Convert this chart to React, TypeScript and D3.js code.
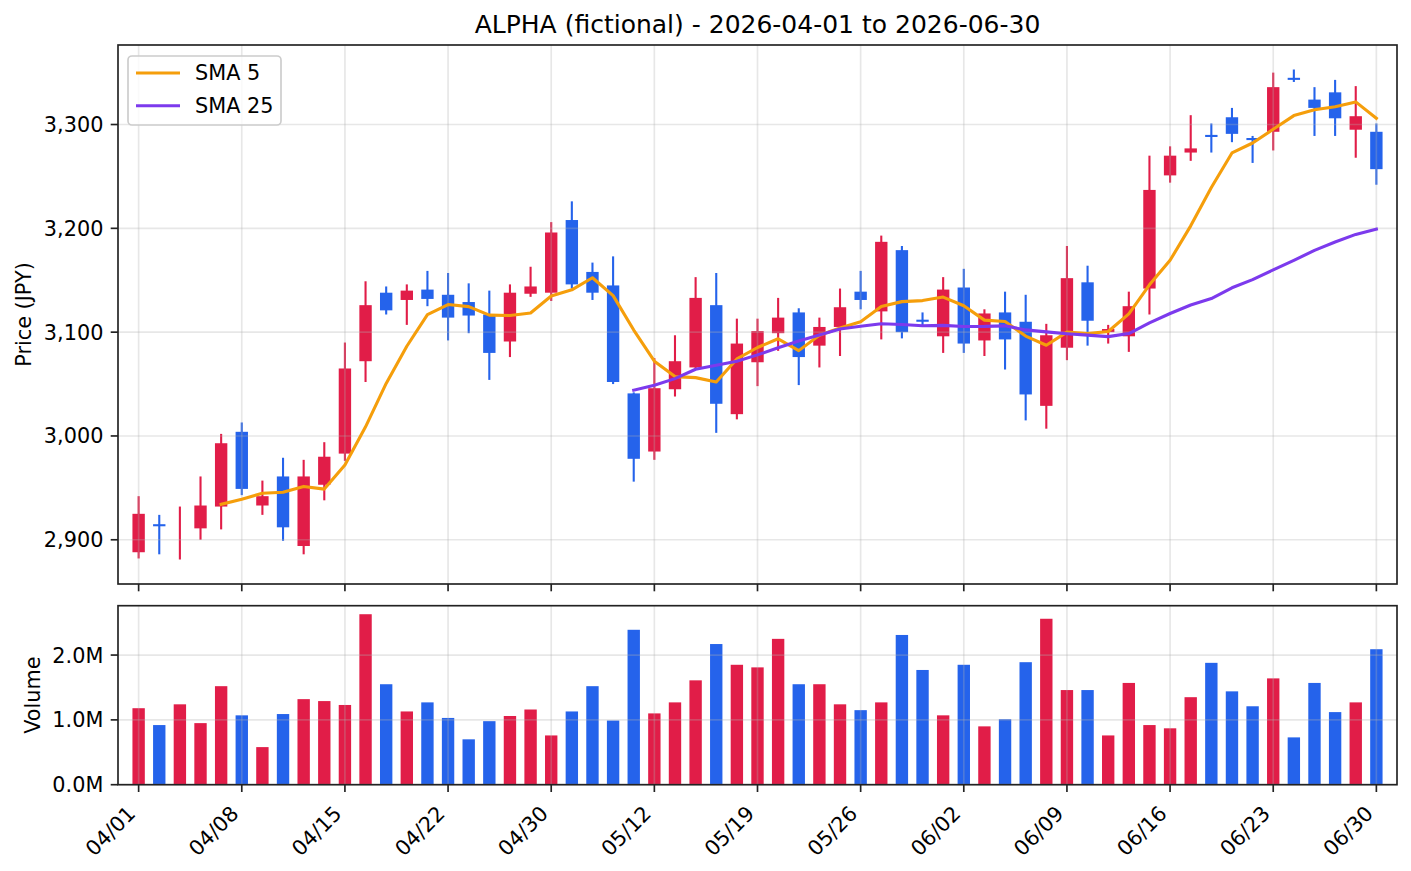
import React from "react";
import * as d3 from "d3";

const dates = [
  "04/01","04/02","04/03","04/06","04/07","04/08","04/09","04/10","04/13","04/14",
  "04/15","04/16","04/17","04/20","04/21","04/22","04/23","04/24","04/27","04/28",
  "04/30","05/01","05/07","05/08","05/11","05/12","05/13","05/14","05/15","05/18",
  "05/19","05/20","05/21","05/22","05/25","05/26","05/27","05/28","05/29","06/01",
  "06/02","06/03","06/04","06/05","06/08","06/09","06/10","06/11","06/12","06/15",
  "06/16","06/17","06/18","06/19","06/22","06/23","06/24","06/25","06/26","06/29",
  "06/30",
];

const opens = [
  2888, 2915, 2907, 2911, 2932, 3004, 2933, 2961, 2894, 2953,
  2983, 3072, 3138, 3131, 3141, 3136, 3129, 3117, 3091, 3137,
  3138, 3208, 3158, 3145, 3041, 2985, 3045, 3066, 3126, 3021,
  3071, 3099, 3119, 3087, 3105, 3139, 3120, 3179, 3112, 3096,
  3143, 3092, 3119, 3110, 3029, 3085, 3148, 3100, 3096, 3142,
  3251, 3273, 3290, 3307, 3287, 3293, 3345, 3324, 3331, 3295,
  3293,
];
const highs = [
  2942, 2924, 2932, 2961, 3002, 3013, 2957, 2979, 2977, 2994,
  3090, 3149, 3144, 3146, 3159, 3157, 3147, 3140, 3146, 3163,
  3206, 3226, 3167, 3173, 3042, 3075, 3097, 3153, 3157, 3113,
  3113, 3133, 3123, 3114, 3142, 3159, 3193, 3183, 3119, 3153,
  3161, 3122, 3139, 3136, 3108, 3183, 3164, 3107, 3139, 3270,
  3279, 3309, 3301, 3316, 3289, 3350, 3353, 3336, 3343, 3337,
  3301,
];
const lows = [
  2882, 2886, 2881, 2900, 2910, 2943, 2924, 2899, 2886, 2938,
  2976, 3052, 3117, 3107, 3125, 3092, 3099, 3054, 3076, 3134,
  3130, 3142, 3131, 3050, 2956, 2977, 3038, 3064, 3003, 3016,
  3048, 3082, 3049, 3066, 3077, 3122, 3093, 3094, 3106, 3080,
  3080, 3077, 3064, 3015, 3007, 3073, 3087, 3089, 3081, 3117,
  3244, 3265, 3273, 3283, 3263, 3275, 3341, 3289, 3289, 3268,
  3242,
];
const closes = [
  2925, 2913, 2907, 2933, 2993, 2949, 2942, 2912, 2961, 2980,
  3065, 3126, 3121, 3140, 3132, 3114, 3116, 3080, 3138, 3144,
  3196, 3146, 3138, 3052, 2978, 3046, 3072, 3133, 3031, 3089,
  3101, 3114, 3076, 3105, 3124, 3131, 3187, 3100, 3110, 3141,
  3089, 3118, 3093, 3040, 3097, 3152, 3111, 3103, 3125, 3237,
  3270, 3277, 3288, 3291, 3285, 3336, 3343, 3316, 3306, 3308,
  3257,
];
const volumesM = [
  1.18, 0.92, 1.24, 0.95, 1.52, 1.07, 0.58, 1.09, 1.32, 1.29,
  1.23, 2.63, 1.55, 1.13, 1.27, 1.03, 0.70, 0.98, 1.06, 1.16,
  0.76, 1.13, 1.52, 0.99, 2.39, 1.10, 1.27, 1.61, 2.17, 1.85,
  1.81, 2.25, 1.55, 1.55, 1.24, 1.15, 1.27, 2.31, 1.77, 1.07,
  1.85, 0.90, 1.01, 1.89, 2.56, 1.46, 1.46, 0.76, 1.57, 0.92,
  0.87, 1.35, 1.88, 1.44, 1.21, 1.64, 0.73, 1.57, 1.12, 1.27,
  2.09,
];
const volumes = volumesM.map((v) => v * 1e6);

const priceTicks = [2900, 3000, 3100, 3200, 3300];
const volumeTicks = [0, 1e6, 2e6];
const smaPeriods = [5, 25];
const smaLabels = ["SMA 5", "SMA 25"];
const smaColors = ["#F59E0B", "#7C3AED"];
const titleText = "ALPHA (fictional) - 2026-04-01 to 2026-06-30";

const UP = "#E11D48";
const DOWN = "#2563EB";
const FONT = "DejaVu Sans, Verdana, sans-serif";

function sma(values: number[], n: number): (number | null)[] {
  return values.map((_, i) => {
    if (i < n - 1) return null;
    let s = 0;
    for (let k = i - n + 1; k <= i; k++) s += values[k];
    return s / n;
  });
}

export default function App() {
  const W = 1411, H = 871;
  const left = 118, right = 1397;
  const pTop = 45, pBot = 584;
  const vTop = 605.7, vBot = 784.7;
  const n = dates.length;
  const tickLen = 7.3, pad = 7.3, fs = 20.8;
  const axisColor = "#222";
  const gridColor = "#b0b0b0";

  const x = d3.scaleLinear().domain([-1, n]).range([left, right]);
  const lo = d3.min(lows)!, hi = d3.max(highs)!;
  const pr = hi - lo;
  const y = d3.scaleLinear().domain([lo - 0.05 * pr, hi + 0.05 * pr]).range([pBot, pTop]);
  const vy = d3.scaleLinear().domain([0, d3.max(volumes)! * 1.05]).range([vBot, vTop]);

  const bw = x(0.3) - x(0);
  const xTickIdx = d3.range(0, n, 5);
  const smas = smaPeriods.map((p) => sma(closes, p));
  const line = d3
    .line<number | null>()
    .defined((d) => d !== null)
    .x((_, i) => x(i))
    .y((d) => y(d as number));

  const fmtPrice = d3.format(",");
  const fmtVol = (v: number) => (v / 1e6).toFixed(1) + "M";

  const a = 0.928 * fs, dsc = 0.236 * fs;

  return (
    <div style={{ position: "absolute", left: 0, top: 0 }}>
      <svg width={W} height={H} style={{ display: "block", background: "#fff" }} fontFamily={FONT}>
        <rect x={0} y={0} width={W} height={H} fill="#fff" />
        <text x={(left + right) / 2} y={32.5} textAnchor="middle" fontSize={25} fill="#000">
          {titleText}
        </text>

        {/* ---------- Price panel ---------- */}
        <g>
          {dates.map((_, i) => {
            const up = closes[i] >= opens[i];
            const c = up ? UP : DOWN;
            const top = y(Math.max(opens[i], closes[i]));
            const bot = y(Math.min(opens[i], closes[i]));
            return (
              <g key={"c" + i}>
                <line x1={x(i)} x2={x(i)} y1={y(highs[i])} y2={y(lows[i])} stroke={c} strokeWidth={2.1} />
                <rect x={x(i) - bw} width={2 * bw} y={top} height={bot - top} fill={c} />
              </g>
            );
          })}
          {priceTicks.map((t) => (
            <line key={"pg" + t} x1={left} x2={right} y1={y(t)} y2={y(t)} stroke={gridColor} strokeOpacity={0.3} strokeWidth={1.67} />
          ))}
          {xTickIdx.map((i) => (
            <line key={"pgx" + i} x1={x(i)} x2={x(i)} y1={pTop} y2={pBot} stroke={gridColor} strokeOpacity={0.3} strokeWidth={1.67} />
          ))}
          {smas.map((s, k) => (
            <path key={"sma" + k} d={line(s) || ""} fill="none" stroke={smaColors[k]} strokeWidth={3.1} strokeLinejoin="round" strokeLinecap="square" />
          ))}
          <rect x={left} y={pTop} width={right - left} height={pBot - pTop} fill="none" stroke={axisColor} strokeWidth={1.67} />
          {priceTicks.map((t) => (
            <g key={"pt" + t}>
              <line x1={left - tickLen} x2={left} y1={y(t)} y2={y(t)} stroke={axisColor} strokeWidth={1.67} />
              <text x={left - tickLen - pad} y={y(t)} dy="0.36em" textAnchor="end" fontSize={fs} fill="#000">
                {fmtPrice(t)}
              </text>
            </g>
          ))}
          {xTickIdx.map((i) => (
            <line key={"ptx" + i} x1={x(i)} x2={x(i)} y1={pBot} y2={pBot + tickLen} stroke={axisColor} strokeWidth={1.67} />
          ))}
          <text transform={`translate(${31},${(pTop + pBot) / 2}) rotate(-90)`} textAnchor="middle" fontSize={fs} fill="#000">
            Price (JPY)
          </text>
          <rect x={128} y={56} width={153} height={69} rx={4} fill="#fff" fillOpacity={0.8} stroke="#cccccc" strokeWidth={1.67} />
          {smaLabels.map((lab, k) => (
            <g key={"lg" + k}>
              <line x1={136} x2={180} y1={73 + k * 32.7} y2={73 + k * 32.7} stroke={smaColors[k]} strokeWidth={3.1} />
              <text x={195} y={73 + k * 32.7} dy="0.36em" fontSize={fs} fill="#000">
                {lab}
              </text>
            </g>
          ))}
        </g>

        {/* ---------- Volume panel ---------- */}
        <g>
          {volumes.map((v, i) => {
            const up = closes[i] >= opens[i];
            return <rect key={"v" + i} x={x(i) - bw} width={2 * bw} y={vy(v)} height={vy(0) - vy(v)} fill={up ? UP : DOWN} />;
          })}
          {volumeTicks.map((t) => (
            <line key={"vg" + t} x1={left} x2={right} y1={vy(t)} y2={vy(t)} stroke={gridColor} strokeOpacity={0.3} strokeWidth={1.67} />
          ))}
          {xTickIdx.map((i) => (
            <line key={"vgx" + i} x1={x(i)} x2={x(i)} y1={vTop} y2={vBot} stroke={gridColor} strokeOpacity={0.3} strokeWidth={1.67} />
          ))}
          <rect x={left} y={vTop} width={right - left} height={vBot - vTop} fill="none" stroke={axisColor} strokeWidth={1.67} />
          {volumeTicks.map((t) => (
            <g key={"vt" + t}>
              <line x1={left - tickLen} x2={left} y1={vy(t)} y2={vy(t)} stroke={axisColor} strokeWidth={1.67} />
              <text x={left - tickLen - pad} y={vy(t)} dy="0.36em" textAnchor="end" fontSize={fs} fill="#000">
                {fmtVol(t)}
              </text>
            </g>
          ))}
          {xTickIdx.map((i) => (
            <g key={"vtx" + i}>
              <line x1={x(i)} x2={x(i)} y1={vBot} y2={vBot + tickLen} stroke={axisColor} strokeWidth={1.67} />
              <text
                transform={`translate(${x(i) - 0.707 * dsc + 1.5},${vBot + tickLen + pad + 0.707 * a * 0.82 + 4.5}) rotate(-45)`}
                textAnchor="end"
                fontSize={fs}
                fill="#000"
              >
                {dates[i]}
              </text>
            </g>
          ))}
          <text transform={`translate(${39.5},${(vTop + vBot) / 2}) rotate(-90)`} textAnchor="middle" fontSize={fs} fill="#000">
            Volume
          </text>
        </g>
      </svg>
    </div>
  );
}
